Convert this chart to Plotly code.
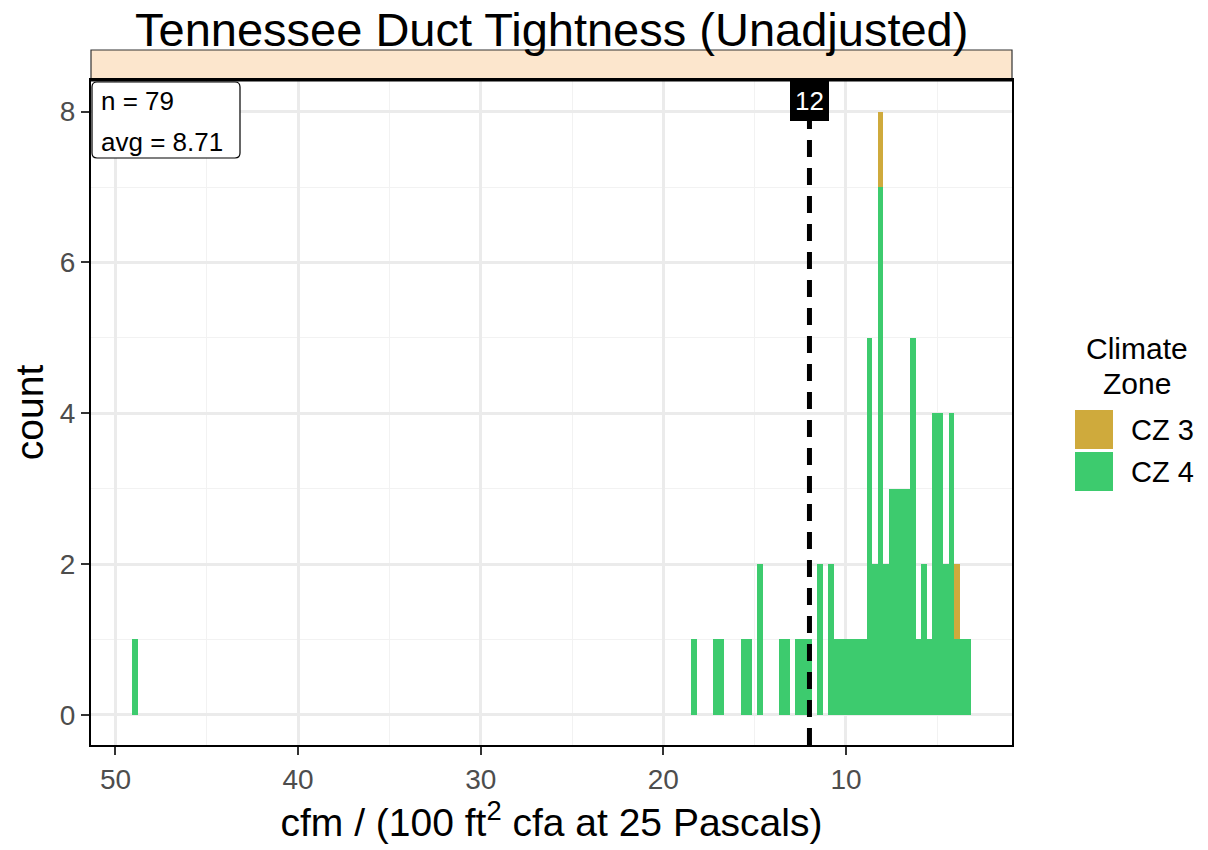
import plotly.graph_objects as go

# histogram bins (bin centres, cfm per 100 ft2) and counts per climate zone
bin_mid = [3.32, 3.62, 3.92, 4.22, 4.52, 4.82, 5.12, 5.42, 5.72, 6.02,
           6.32, 6.62, 6.92, 7.22, 7.52, 7.82, 8.12, 8.42, 8.72, 9.02,
           9.32, 9.62, 9.92, 10.22, 10.52, 10.82, 11.42, 12.02, 12.32, 12.62,
           13.22, 13.52, 14.72, 15.32, 15.62, 16.82, 17.12, 18.32, 48.92]
cz4_count = [1, 1, 1, 4, 2, 4, 4, 1, 2, 1,
             5, 3, 3, 3, 3, 2, 7, 2, 5, 1,
             1, 1, 1, 1, 1, 2, 2, 1, 1, 1,
             1, 1, 2, 1, 1, 1, 1, 1, 1]
cz3_mid = [3.92, 8.12]
cz3_count = [1, 1]
bin_width = 0.3

zones = ["CZ 3", "CZ 4"]
zone_colors = {"CZ 3": "#CFAA3C", "CZ 4": "#3DCB6E"}

n_obs = 79
avg_val = 8.71
target = 12

x_ticks = [50, 40, 30, 20, 10]
y_ticks = [0, 2, 4, 6, 8]

# page size and panel position in page pixels (page body adds an 8px margin)
W, H, OFF = 1208, 850, 8
L, R, T, B = 91, 1012, 80, 745


def px(x):
    return (x - L) / (R - L)


def py(y):
    return (B - y) / (B - T)


FONT = "Liberation Sans, Arial, sans-serif"

fig = go.Figure()
fig.add_trace(go.Bar(
    x=bin_mid, y=cz4_count, width=bin_width, name="CZ 4",
    marker=dict(color=zone_colors["CZ 4"], line=dict(width=0)),
    showlegend=False,
))
fig.add_trace(go.Bar(
    x=cz3_mid, y=cz3_count, width=bin_width, name="CZ 3",
    marker=dict(color=zone_colors["CZ 3"], line=dict(width=0)),
    showlegend=False,
))

# target line and its label
fig.add_shape(type="line", xref="x", yref="paper", x0=target, x1=target,
              y0=0, y1=py(110), line=dict(color="black", width=5, dash="17px,11px"))
fig.add_annotation(x=target, xref="x", y=py(101), yref="paper", text=str(target),
                   showarrow=False, xanchor="center", yanchor="middle",
                   bgcolor="black", bordercolor="black", borderpad=4,
                   font=dict(color="white", size=26, family=FONT))

# n / avg box (rounded corners)
bx0, bx1, by0, by1, rr = px(92), px(240), py(158), py(82), 5
rx, ry = rr / (R - L), rr / (B - T)
fig.add_shape(type="path", xref="paper", yref="paper",
              path=(f"M {bx0 + rx},{by0} L {bx1 - rx},{by0} Q {bx1},{by0} {bx1},{by0 + ry} "
                    f"L {bx1},{by1 - ry} Q {bx1},{by1} {bx1 - rx},{by1} "
                    f"L {bx0 + rx},{by1} Q {bx0},{by1} {bx0},{by1 - ry} "
                    f"L {bx0},{by0 + ry} Q {bx0},{by0} {bx0 + rx},{by0} Z"),
              fillcolor="white", line=dict(color="black", width=1.2))
for txt, yy in [(f"n = {n_obs}", 101), (f"avg = {avg_val}", 142)]:
    fig.add_annotation(x=px(99), y=py(yy), xref="paper", yref="paper",
                       xanchor="left", yanchor="middle", text=txt, showarrow=False,
                       font=dict(size=26, family=FONT, color="black"))

# facet strip
fig.add_shape(type="rect", xref="paper", yref="paper", x0=0, x1=1,
              y0=1, y1=py(50), fillcolor="#FCE6CD",
              line=dict(color="#333333", width=1.2), layer="below")
fig.add_shape(type="line", xref="paper", yref="paper", x0=0, x1=1,
              y0=1, y1=1, line=dict(color="black", width=3))

# title
fig.add_annotation(x=0.5, y=py(29), xref="paper", yref="paper",
                   xanchor="center", yanchor="middle",
                   text="Tennessee Duct Tightness (Unadjusted)", showarrow=False,
                   font=dict(size=47, family=FONT, color="black"))

# legend drawn by hand
for txt, yy in [("Climate", 348), ("Zone", 383)]:
    fig.add_annotation(x=px(1137), y=py(yy), xref="paper", yref="paper",
                       xanchor="center", yanchor="middle", text=txt, showarrow=False,
                       font=dict(size=30, family=FONT, color="black"))
for i, z in enumerate(zones):
    y0 = 410 + i * 42
    fig.add_shape(type="rect", xref="paper", yref="paper",
                  x0=px(1075), x1=px(1113), y0=py(y0), y1=py(y0 + 39),
                  fillcolor=zone_colors[z], line=dict(width=0))
    fig.add_annotation(x=px(1129), y=py(y0 + 20), xref="paper", yref="paper",
                       text=z, showarrow=False, xanchor="left", yanchor="middle",
                       font=dict(size=29, family=FONT, color="black"))

fig.update_layout(
    width=W - OFF, height=H - OFF,
    margin=dict(l=L - OFF, r=W - R, t=T - OFF, b=H - B),
    paper_bgcolor="white", plot_bgcolor="white",
    barmode="stack", bargap=0,
    font=dict(family=FONT),
    showlegend=False,
)
fig.update_xaxes(
    range=[51.34, 0.91], tickvals=x_ticks, ticktext=[str(v) for v in x_ticks],
    ticks="outside", ticklen=8, tickwidth=2, tickcolor="#333333",
    tickfont=dict(size=28, color="#4D4D4D", family=FONT),
    showgrid=True, gridcolor="#EBEBEB", gridwidth=2.5,
    minor=dict(tickvals=[45, 35, 25, 15, 5], showgrid=True,
               gridcolor="#F2F2F2", gridwidth=1.3),
    showline=True, mirror=True, linecolor="black", linewidth=2,
    zeroline=False,
    title=dict(text="cfm / (100 ft<sup>2</sup> cfa at 25 Pascals)",
               font=dict(size=39, family=FONT, color="black"), standoff=13),
)
fig.update_yaxes(
    range=[-0.4, 8.42], tickvals=y_ticks,
    ticks="outside", ticklen=8, tickwidth=2, tickcolor="#333333",
    tickfont=dict(size=28, color="#4D4D4D", family=FONT),
    showgrid=True, gridcolor="#EBEBEB", gridwidth=2.5,
    minor=dict(tickvals=[1, 3, 5, 7], showgrid=True,
               gridcolor="#F2F2F2", gridwidth=1.3),
    showline=True, mirror=True, linecolor="black", linewidth=2,
    zeroline=False,
    title=dict(text="count", font=dict(size=39, family=FONT, color="black"),
               standoff=12),
)

fig.write_html("out.html")
